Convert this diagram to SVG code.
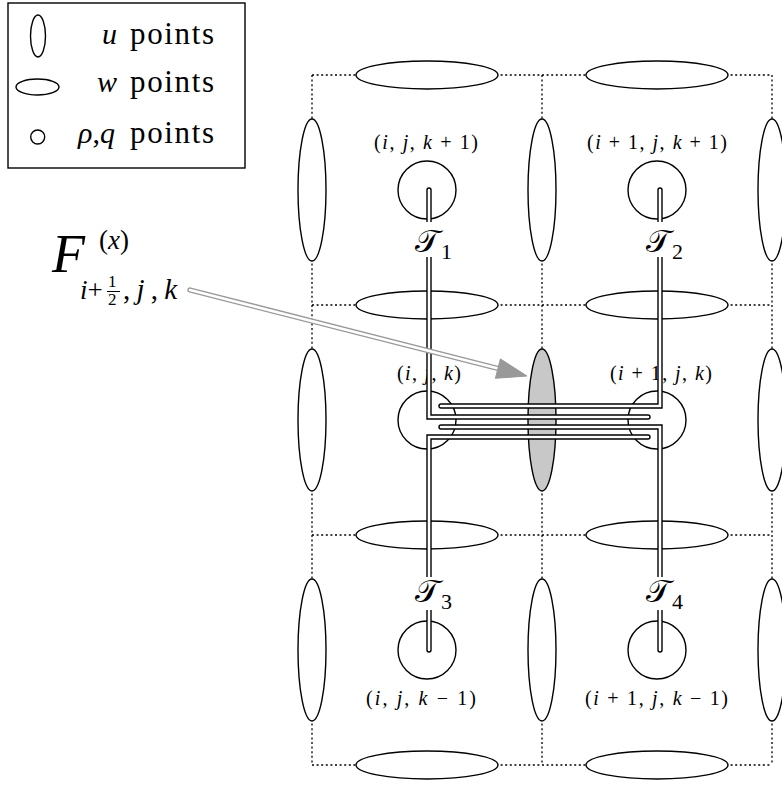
<svg xmlns="http://www.w3.org/2000/svg" width="782" height="787" viewBox="0 0 782 787">
<style>
 .grid{stroke:#000;stroke-width:1.3;stroke-dasharray:2 2.6;fill:none}
 .el{fill:#fff;stroke:#000;stroke-width:1.4}
 .sh{fill:#c8c8c8;stroke:#000;stroke-width:1.4}
 .tb{fill:none;stroke:#000;stroke-width:5.4;stroke-linecap:round;stroke-linejoin:miter}
 .tw{fill:none;stroke:#fff;stroke-width:2.6;stroke-linecap:round;stroke-linejoin:miter}
 .gb{fill:none;stroke:#999;stroke-width:5.4;stroke-linecap:round}
 .lbl{font-family:'Liberation Serif','DejaVu Serif','Times New Roman',serif;font-size:20px;fill:#000}
 .txt{font-family:'Liberation Serif','DejaVu Serif','Times New Roman',serif;fill:#000}
 .it{font-style:italic}
 .cal{font-family:'DejaVu Serif','Liberation Serif',serif;font-size:32px;fill:#000}
 .sub{font-family:'Liberation Serif','DejaVu Serif',serif;font-size:22px;fill:#000}
</style>
<rect width="782" height="787" fill="#fff"/>

<g id="grid">
 <path class="grid" d="M312,75V765M542,75V765M772,75V765M312,75H772M312,305H772M312,535H772M312,765H772"/>
</g>

<g id="u-points">
 <ellipse class="el" cx="312" cy="190" rx="14" ry="71"/>
 <ellipse class="el" cx="542" cy="190" rx="14" ry="71"/>
 <ellipse class="el" cx="772" cy="190" rx="14" ry="71"/>
 <ellipse class="el" cx="312" cy="420" rx="14" ry="71"/>
 <ellipse class="el" cx="772" cy="420" rx="14" ry="71"/>
 <ellipse class="el" cx="312" cy="650" rx="14" ry="71"/>
 <ellipse class="el" cx="542" cy="650" rx="14" ry="71"/>
 <ellipse class="el" cx="772" cy="650" rx="14" ry="71"/>
</g>
<g id="u-flux-face">
 <ellipse class="sh" cx="542" cy="420" rx="14" ry="71"/>
</g>
<g id="w-points">
 <ellipse class="el" cx="427" cy="75" rx="71" ry="14"/>
 <ellipse class="el" cx="657" cy="75" rx="71" ry="14"/>
 <ellipse class="el" cx="427" cy="305" rx="71" ry="14"/>
 <ellipse class="el" cx="657" cy="305" rx="71" ry="14"/>
 <ellipse class="el" cx="427" cy="535" rx="71" ry="14"/>
 <ellipse class="el" cx="657" cy="535" rx="71" ry="14"/>
 <ellipse class="el" cx="427" cy="765" rx="71" ry="14"/>
 <ellipse class="el" cx="657" cy="765" rx="71" ry="14"/>
</g>

<g id="node-i-j-kp1">
 <circle class="el" cx="427" cy="190" r="29"/>
 <text class="lbl" x="374" y="149" textLength="104" lengthAdjust="spacing">(<tspan class="it">i</tspan>, <tspan class="it">j</tspan>, <tspan class="it">k</tspan> + 1)</text>
</g>
<g id="node-ip1-j-kp1">
 <circle class="el" cx="657" cy="190" r="29"/>
 <text class="lbl" x="587" y="149" textLength="140" lengthAdjust="spacing">(<tspan class="it">i</tspan> + 1, <tspan class="it">j</tspan>, <tspan class="it">k</tspan> + 1)</text>
</g>
<g id="node-i-j-k">
 <circle class="el" cx="427" cy="420" r="29"/>
 <text class="lbl" x="397" y="380" textLength="64" lengthAdjust="spacing">(<tspan class="it">i</tspan>, <tspan class="it">j</tspan>, <tspan class="it">k</tspan>)</text>
</g>
<g id="node-ip1-j-k">
 <circle class="el" cx="657" cy="420" r="29"/>
 <text class="lbl" x="610" y="380" textLength="102" lengthAdjust="spacing">(<tspan class="it">i</tspan> + 1, <tspan class="it">j</tspan>, <tspan class="it">k</tspan>)</text>
</g>
<g id="node-i-j-km1">
 <circle class="el" cx="427" cy="650" r="29"/>
 <text class="lbl" x="366" y="705" textLength="110" lengthAdjust="spacing">(<tspan class="it">i</tspan>, <tspan class="it">j</tspan>, <tspan class="it">k</tspan> − 1)</text>
</g>
<g id="node-ip1-j-km1">
 <circle class="el" cx="657" cy="650" r="29"/>
 <text class="lbl" x="585" y="705" textLength="143" lengthAdjust="spacing">(<tspan class="it">i</tspan> + 1, <tspan class="it">j</tspan>, <tspan class="it">k</tspan> − 1)</text>
</g>

<g id="connectors">
 <path class="tb" d="M429,190V417H648"/>
 <path class="tw" d="M429,190V417H648"/>
 <path class="tb" d="M660,190V406H441"/>
 <path class="tw" d="M660,190V406H441"/>
 <path class="tb" d="M429,650V437H648"/>
 <path class="tw" d="M429,650V437H648"/>
 <path class="tb" d="M660,650V427H441"/>
 <path class="tw" d="M660,650V427H441"/>
 <path class="gb" d="M190,290L500,369"/>
 <path class="tw" d="M190,290L500,369"/>
 <polygon points="527,376 495.4,378.3 500.4,358.9" fill="#999" stroke="#999" stroke-width="1"/>
</g>

<g id="label-T1">
 <rect x="422" y="222" width="15" height="35" fill="#fff"/>
 <text class="cal" x="415" y="252">𝒯</text>
 <text class="sub" x="441" y="259">1</text>
</g>
<g id="label-T2">
 <rect x="653" y="222" width="15" height="35" fill="#fff"/>
 <text class="cal" x="646" y="252">𝒯</text>
 <text class="sub" x="672" y="259">2</text>
</g>
<g id="label-T3">
 <rect x="422" y="577" width="15" height="33" fill="#fff"/>
 <text class="cal" x="415" y="602">𝒯</text>
 <text class="sub" x="441" y="609">3</text>
</g>
<g id="label-T4">
 <rect x="653" y="577" width="15" height="33" fill="#fff"/>
 <text class="cal" x="646" y="602">𝒯</text>
 <text class="sub" x="672" y="609">4</text>
</g>

<g id="label-F">
 <text class="txt it" x="52" y="272" font-size="54">F</text>
 <text class="txt" x="99" y="249" font-size="27">(<tspan class="it">x</tspan>)</text>
 <text class="txt" x="80" y="299" font-size="27"><tspan class="it">i</tspan>+</text>
 <text class="txt" x="108" y="287" font-size="17">1</text>
 <line x1="107" y1="291.5" x2="120" y2="291.5" stroke="#000" stroke-width="1"/>
 <text class="txt" x="108" y="305" font-size="17">2</text>
 <text class="txt" x="123" y="299" font-size="29" textLength="54" lengthAdjust="spacing">,<tspan class="it">j</tspan>,<tspan class="it">k</tspan></text>
</g>

<g id="legend">
 <rect x="8" y="3" width="237" height="165" fill="#fff" stroke="#000" stroke-width="1.4"/>
 <ellipse class="el" cx="38" cy="36" rx="7.5" ry="21"/>
 <ellipse class="el" cx="37.5" cy="87" rx="21.5" ry="8"/>
 <circle class="el" cx="37.7" cy="137" r="7"/>
 <text class="txt it" x="102" y="44" font-size="30">u</text>
 <text class="txt" x="130" y="44" font-size="31" textLength="84" lengthAdjust="spacing">points</text>
 <text class="txt it" x="97" y="92" font-size="30">w</text>
 <text class="txt" x="130" y="92" font-size="31" textLength="84" lengthAdjust="spacing">points</text>
 <text class="txt" x="78" y="143" font-size="30"><tspan class="it">ρ</tspan>,<tspan class="it">q</tspan></text>
 <text class="txt" x="130" y="143" font-size="31" textLength="84" lengthAdjust="spacing">points</text>
</g>
</svg>
